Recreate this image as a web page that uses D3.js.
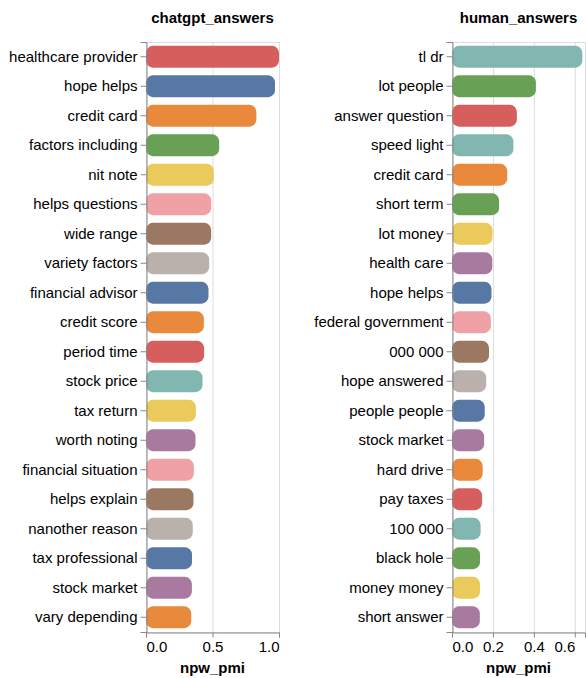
<!DOCTYPE html>
<html>
<head>
<meta charset="utf-8">
<script src="https://cdn.jsdelivr.net/npm/d3@7"></script>
<style>
  body { margin: 0; background: #fff; }
  svg { font-family: "Liberation Sans", Arial, Helvetica, sans-serif; }
</style>
</head>
<body>
<svg id="chart"></svg>
<script>
// chatgpt_answers panel
const chatgptTerms = [
  "healthcare provider", "hope helps", "credit card", "factors including", "nit note",
  "helps questions", "wide range", "variety factors", "financial advisor", "credit score",
  "period time", "stock price", "tax return", "worth noting", "financial situation",
  "helps explain", "nanother reason", "tax professional", "stock market", "vary depending"
];
const chatgptValues = [
  1.0, 0.97, 0.83, 0.55, 0.51,
  0.49, 0.49, 0.475, 0.47, 0.435,
  0.437, 0.425, 0.375, 0.372, 0.36,
  0.357, 0.352, 0.346, 0.345, 0.34
];

// human_answers panel
const humanTerms = [
  "tl dr", "lot people", "answer question", "speed light", "credit card",
  "short term", "lot money", "health care", "hope helps", "federal government",
  "000 000", "hope answered", "people people", "stock market", "hard drive",
  "pay taxes", "100 000", "black hole", "money money", "short answer"
];
const humanValues = [
  0.637, 0.41, 0.317, 0.30, 0.27,
  0.23, 0.198, 0.197, 0.193, 0.19,
  0.181, 0.167, 0.16, 0.157, 0.15,
  0.147, 0.14, 0.137, 0.137, 0.136
];

// farben (tableau10, wie im bild)
const palette = {
  blue: "#5778a4", orange: "#e8893b", red: "#d65f5d", teal: "#82b6b1", green: "#68a155",
  yellow: "#e9ca5b", purple: "#a97a9f", pink: "#f0a1a6", brown: "#9a7862", gray: "#bab1ad"
};
const termColor = {
  "healthcare provider": "red", "hope helps": "blue", "credit card": "orange",
  "factors including": "green", "nit note": "yellow", "helps questions": "pink",
  "wide range": "brown", "variety factors": "gray", "financial advisor": "blue",
  "credit score": "orange", "period time": "red", "stock price": "teal",
  "tax return": "yellow", "worth noting": "purple", "financial situation": "pink",
  "helps explain": "brown", "nanother reason": "gray", "tax professional": "blue",
  "stock market": "purple", "vary depending": "orange",
  "tl dr": "teal", "lot people": "green", "answer question": "red", "speed light": "teal",
  "short term": "green", "lot money": "yellow", "health care": "purple",
  "federal government": "pink", "000 000": "brown", "hope answered": "gray",
  "people people": "blue", "hard drive": "orange", "pay taxes": "red",
  "100 000": "teal", "black hole": "green", "money money": "yellow", "short answer": "purple"
};

const width = 586;
const height = 678;
const plotW = 133;
const plotTop = 42;
const plotBottom = 632;

const svg = d3.select("#chart").attr("width", width).attr("height", height);

const drawPanel = (title, terms, values, left) => {
  const data = terms.map((t, i) => ({ term: t, value: values[i] }));
  const g = svg.append("g").attr("transform", `translate(${left},0)`);

  const x = d3.scaleLinear()
    .domain([0, d3.max(values)])
    .nice(10)
    .range([0, plotW]);

  const y = d3.scaleBand()
    .domain(terms)
    .range([plotTop, plotBottom])
    .paddingInner(0.26)
    .paddingOuter(0.13);

  const ticks = x.ticks(3);

  // gitterlinien
  g.append("g")
    .selectAll("line")
    .data(ticks)
    .enter()
    .append("line")
    .attr("x1", (d) => x(d) + 0.5)
    .attr("x2", (d) => x(d) + 0.5)
    .attr("y1", plotTop)
    .attr("y2", plotBottom)
    .attr("stroke", "#ddd");

  // rahmen
  g.append("rect")
    .attr("x", 0.5)
    .attr("y", plotTop + 0.5)
    .attr("width", plotW)
    .attr("height", plotBottom - plotTop)
    .attr("fill", "none")
    .attr("stroke", "#ddd");

  // balken
  g.selectAll(".bar")
    .data(data)
    .enter()
    .append("rect")
    .attr("class", "bar")
    .attr("x", 0)
    .attr("y", (d) => y(d.term))
    .attr("width", (d) => x(d.value))
    .attr("height", y.bandwidth())
    .attr("rx", 7)
    .attr("fill", (d) => palette[termColor[d.term]]);

  // y-achse
  const yAxis = g.append("g")
    .attr("transform", "translate(0.5,0)")
    .call(d3.axisLeft(y).tickSize(6).tickPadding(3));
  yAxis.select(".domain").attr("stroke", "#888");
  yAxis.selectAll("line").attr("stroke", "#888");
  yAxis.selectAll("text")
    .attr("fill", "#000")
    .style("font-size", "15px")
    .style("font-family", "inherit");

  // x-achse (erstes/letztes label bündig)
  const xAxis = g.append("g")
    .attr("transform", `translate(0,${plotBottom + 0.5})`)
    .call(d3.axisBottom(x).ticks(3).tickFormat(d3.format(".1f")).tickSize(5).tickPadding(4));
  xAxis.select(".domain").attr("stroke", "#888");
  xAxis.selectAll("line").attr("stroke", "#888");
  xAxis.selectAll("text")
    .attr("fill", "#000")
    .style("font-size", "15px")
    .style("font-family", "inherit")
    .attr("text-anchor", (d, i) => (i === 0 ? "start" : i === ticks.length - 1 ? "end" : "middle"));

  // achsentitel
  g.append("text")
    .attr("x", plotW / 2)
    .attr("y", 673)
    .attr("text-anchor", "middle")
    .style("font-size", "15px")
    .style("font-weight", "bold")
    .text("npw_pmi");

  // panel-titel
  g.append("text")
    .attr("x", plotW / 2)
    .attr("y", 23)
    .attr("text-anchor", "middle")
    .style("font-size", "15px")
    .style("font-weight", "bold")
    .text(title);
};

drawPanel("chatgpt_answers", chatgptTerms, chatgptValues, 146);
drawPanel("human_answers", humanTerms, humanValues, 452);
</script>
</body>
</html>
